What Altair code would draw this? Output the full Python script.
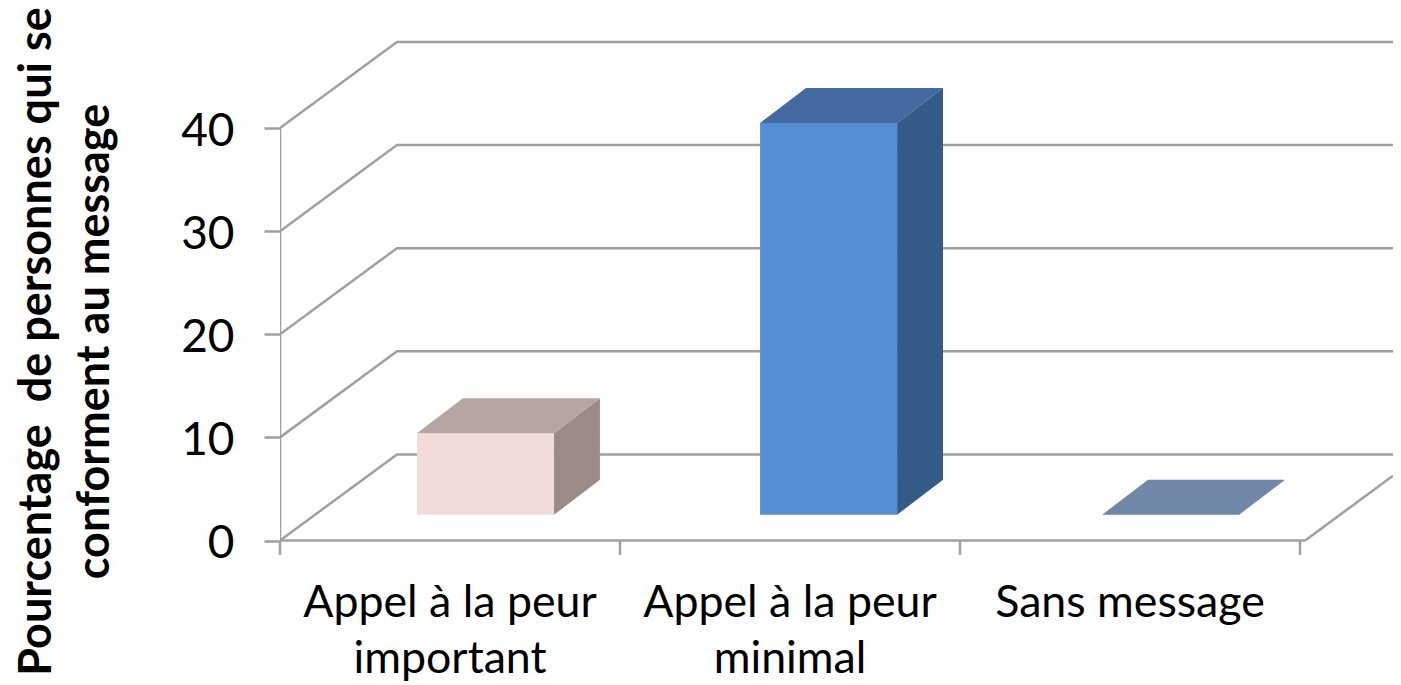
import altair as alt
import pandas as pd

# --- values ---
categories = ["Appel à la peur\nimportant", "Appel à la peur\nminimal", "Sans message"]
values = [7.9, 38, 0]
bar_left = [0.403, 1.412, 2.418]      # front-left corner, in category units
bar_width = 0.403
front_color = ["#F2DCD9", "#558ED5", "#7087A8"]
top_color = ["#B5A6A4", "#4269A0", "#7087A8"]
side_color = ["#9A8B87", "#345A88", "#7087A8"]
grid_values = [0, 10, 20, 30, 40]
title_lines = ["Pourcentage \u00a0de personnes qui se", "conforment au message"]

GRID = "#A0A0A0"
FONT = "Lato"
PLOT_W, PLOT_H = 1113, 677
X_MAX = PLOT_W / 340
Y_MIN, Y_MAX = (540.5 - 685) / 10.31, (540.5 - 8) / 10.31
WALL_DX, WALL_DY = 0.344, 8.35        # depth of the floor in scale units
BAR_BASE = 2.5                        # value level of the bars' front base
BAR_DX, BAR_DY = 0.135, 3.4           # depth of a bar in scale units
FLOOR_END = 3.015

xs = alt.Scale(domain=[0, X_MAX], nice=False, zero=False)
ys = alt.Scale(domain=[Y_MIN, Y_MAX], nice=False, zero=False)
y_axis = alt.Axis(
    values=grid_values,
    format="d",
    domain=False,
    grid=False,
    tickColor=GRID,
    tickWidth=2.5,
    tickSize=16,
    labelPadding=30,
    labelOffset=3,
    labelFont=FONT,
    labelFontSize=46,
    labelColor="#000000",
    title=title_lines,
    titleFont=FONT,
    titleFontSize=45,
    titleFontWeight="bold",
    titleColor="#000000",
    titleAngle=270,
    titleLineHeight=58,
    titleX=-230,
    titleY=333,
    titleAlign="center",
    titleBaseline="alphabetic",
)
X = alt.X("x:Q", scale=xs, axis=None)
Y = alt.Y("y:Q", scale=ys, axis=y_axis, stack=None)

# wall and floor lines
rows = []
for v in grid_values:
    rows += [
        {"g": f"w{v}", "x": 0, "y": v},
        {"g": f"w{v}", "x": WALL_DX, "y": v + WALL_DY},
        {"g": f"w{v}", "x": X_MAX, "y": v + WALL_DY},
    ]
rows += [
    {"g": "left", "x": 0, "y": 0},
    {"g": "left", "x": 0, "y": 40},
    {"g": "front", "x": 0, "y": 0},
    {"g": "front", "x": FLOOR_END, "y": 0},
    {"g": "right", "x": FLOOR_END, "y": 0},
    {"g": "right", "x": X_MAX, "y": (X_MAX - FLOOR_END) / WALL_DX * WALL_DY},
]
lines_df = pd.DataFrame(rows)

lines = alt.Chart(lines_df).mark_line(color=GRID, strokeWidth=2.5, clip=True).encode(
    x=X, y=Y, detail="g:N"
)

ticks = (
    alt.Chart(pd.DataFrame({"x": [0, 1, 2, 3], "y": [0] * 4, "y2": [-1.4] * 4}))
    .mark_rule(color=GRID, strokeWidth=2.5)
    .encode(x=X, y=Y, y2="y2:Q")
)

# bar faces
front_df = pd.DataFrame(
    {
        "x": bar_left,
        "x2": [b + bar_width for b in bar_left],
        "y": [BAR_BASE] * 3,
        "y2": [BAR_BASE + v for v in values],
        "fill": front_color,
    }
)
side_rows, top_rows = [], []
for i, (b, v) in enumerate(zip(bar_left, values)):
    r = b + bar_width
    side_rows += [
        {"bar": i, "x": r, "y": BAR_BASE, "y2": BAR_BASE + v, "fill": side_color[i]},
        {"bar": i, "x": r + BAR_DX, "y": BAR_BASE + BAR_DY, "y2": BAR_BASE + BAR_DY + v, "fill": side_color[i]},
    ]
    top_rows += [
        {"bar": i, "y": BAR_BASE + v, "x": b, "x2": r, "fill": top_color[i]},
        {"bar": i, "y": BAR_BASE + v + BAR_DY, "x": b + BAR_DX, "x2": r + BAR_DX, "fill": top_color[i]},
    ]

front = alt.Chart(front_df[front_df["y"] != front_df["y2"]]).mark_rect().encode(
    x=X, x2="x2:Q", y=Y, y2="y2:Q", color=alt.Color("fill:N", scale=None)
)
side = alt.Chart(pd.DataFrame(side_rows)).mark_area().encode(
    x=X, y=Y, y2="y2:Q", detail="bar:N", color=alt.Color("fill:N", scale=None)
)
top = alt.Chart(pd.DataFrame(top_rows)).mark_area(orient="horizontal").encode(
    y=alt.Y("y:Q", scale=ys, axis=y_axis),
    x=alt.X("x:Q", scale=xs, axis=None, stack=None),
    x2="x2:Q",
    detail="bar:N",
    color=alt.Color("fill:N", scale=None),
)

labels = (
    alt.Chart(pd.DataFrame({"x": [0.5, 1.5, 2.5], "label": categories}))
    .mark_text(
        font=FONT,
        fontSize=44.7,
        color="#000000",
        align="center",
        baseline="alphabetic",
        lineBreak="\n",
        lineHeight=56,
    )
    .encode(x=X, y=alt.value(609), text="label:N")
)

chart = (
    alt.layer(lines, ticks, front, side, top, labels)
    .properties(
        width=PLOT_W,
        height=PLOT_H,
        padding={"left": 272, "top": 0, "right": 0, "bottom": 0},
        autosize=alt.AutoSizeParams(type="none"),
    )
    .configure_view(stroke=None)
)

chart.save("out.html", embed_options={"renderer": "svg", "actions": False})
